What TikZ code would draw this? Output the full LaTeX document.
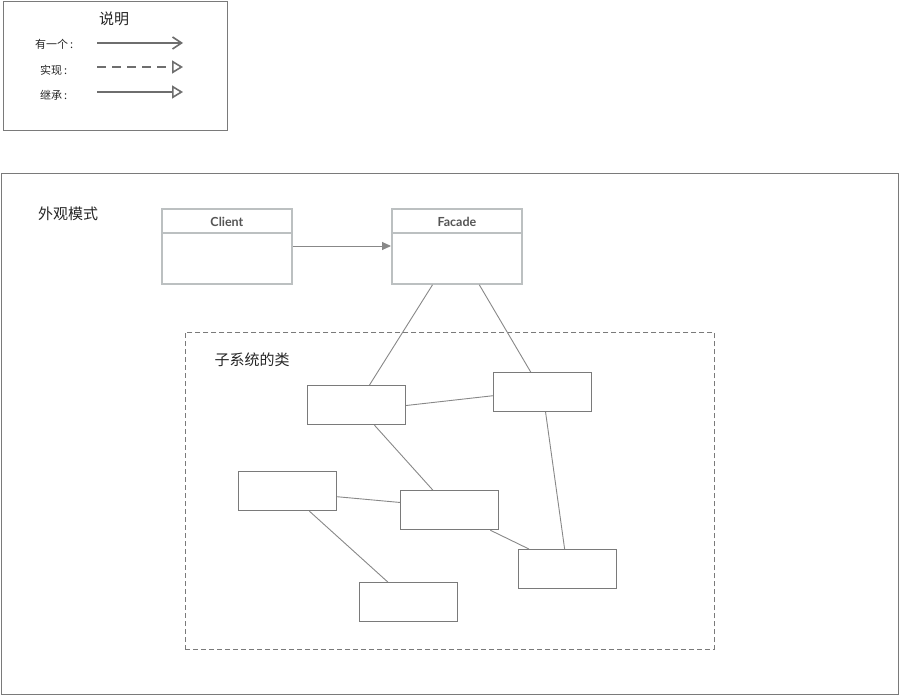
\documentclass[tikz,border=0pt]{standalone}
\usepackage{fontspec}
\setmainfont{Lato}
\newfontfamily\cjk{Noto Sans CJK SC}
\usetikzlibrary{arrows.meta,calc}
\definecolor{frame}{HTML}{7A7A7A}
\definecolor{umlborder}{HTML}{BCC0C1}
\definecolor{umltext}{HTML}{555555}
\definecolor{conn}{HTML}{888888}
\definecolor{legendline}{HTML}{6E6E6E}
\tikzset{
  umlbox/.style={draw=umlborder, line width=1.8pt, anchor=north west, minimum width=130pt, minimum height=75pt, inner sep=0pt},
  subbox/.style={draw=frame, line width=1.2pt, anchor=north west, minimum width=98pt, minimum height=39pt, inner sep=0pt},
  umltitle/.style={font=\fontsize{12.5}{14}\selectfont\bfseries, text=umltext, inner sep=0pt},
  cjklabel/.style={font=\cjk\fontsize{15}{17}\selectfont, text=black!85, inner sep=0pt},
  legendlabel/.style={font=\cjk\fontsize{11}{13}\selectfont, text=black!85, inner sep=0pt, anchor=west},
  conline/.style={draw=conn, line width=0.9pt},
  legarrow/.style={draw=legendline, line width=1.6pt},
}
\begin{document}
\begin{tikzpicture}[x=1pt,y=-1pt]
\useasboundingbox (0,0) rectangle (899,695);
\fill[white] (0,0) rectangle (899,695);

% legend
\node[draw=frame, line width=1pt, anchor=north west, minimum width=224pt, minimum height=129pt, inner sep=0pt] (legend) at (3,1) {};
\node[cjklabel] (legtitle) at (114,19) {说明};
\node[legendlabel] (l1) at (35,44) {有一个\,:};
\node[legendlabel] (l2) at (40,70) {实现\,:};
\node[legendlabel] (l3) at (40,95) {继承\,:};
\coordinate (a1s) at (97,43); \coordinate (a1e) at (183,43);
\coordinate (a2s) at (97,67); \coordinate (a2e) at (183,67);
\coordinate (a3s) at (97,92); \coordinate (a3e) at (183,92);
\draw[legarrow, -{Straight Barb[length=9pt,width=12pt]}] (a1s) -- (a1e);
\draw[legarrow, dash pattern=on 9pt off 6pt, -{Triangle[open,length=11pt,width=13pt]}] (a2s) -- (a2e);
\draw[legarrow, -{Triangle[open,length=11pt,width=13pt]}] (a3s) -- (a3e);

% main frame
\node[draw=frame, line width=1pt, anchor=north west, minimum width=897pt, minimum height=521pt, inner sep=0pt] (main) at (1,173) {};
\node[cjklabel] (maintitle) at (68,214) {外观模式};

% Client & Facade
\node[umlbox] (client) at (161,208) {};
\draw[umlborder, line width=1.8pt] ($(client.north west)+(0,25)$) -- ($(client.north east)+(0,25)$);
\node[umltitle] (clienttitle) at ($(client.north)+(0,14)$) {Client};
\node[umlbox] (facade) at (391,208) {};
\draw[umlborder, line width=1.8pt] ($(facade.north west)+(0,25)$) -- ($(facade.north east)+(0,25)$);
\node[umltitle] (facadetitle) at ($(facade.north)+(0,14)$) {Facade};
\draw[conline, -{Triangle[length=9pt,width=8pt]}] ($(client.north east)+(0,38)$) -- ($(facade.north west)+(0,38)$);

% subsystem frame
\node[draw=frame, line width=0.9pt, dash pattern=on 5pt off 3pt, anchor=north west, minimum width=529pt, minimum height=317pt, inner sep=0pt] (sub) at (185,332) {};
\node[cjklabel] (subtitle) at (252,360) {子系统的类};

\node[subbox] (A) at (307,385) {};
\node[subbox] (B) at (493,372) {};
\node[subbox] (C) at (238,471) {};
\node[subbox] (D) at (400,490) {};
\node[subbox] (E) at (518,549) {};
\node[subbox] (F) at (359,582) {};

% connectors
\draw[conline] ($(facade.south west)!0.315!(facade.south east)$) -- ($(A.north west)!0.63!(A.north east)$);
\draw[conline] ($(facade.south west)!0.67!(facade.south east)$) -- ($(B.north west)!0.38!(B.north east)$);
\draw[conline] ($(A.north east)!0.51!(A.south east)$) -- ($(B.north west)!0.59!(B.south west)$);
\draw[conline] ($(A.south west)!0.68!(A.south east)$) -- ($(D.north west)!0.33!(D.north east)$);
\draw[conline] ($(B.south west)!0.53!(B.south east)$) -- ($(E.north west)!0.47!(E.north east)$);
\draw[conline] ($(C.north east)!0.64!(C.south east)$) -- ($(D.north west)!0.31!(D.south west)$);
\draw[conline] ($(C.south west)!0.72!(C.south east)$) -- ($(F.north west)!0.29!(F.north east)$);
\draw[conline] ($(D.south west)!0.91!(D.south east)$) -- ($(E.north west)!0.11!(E.north east)$);
\end{tikzpicture}
\end{document}
